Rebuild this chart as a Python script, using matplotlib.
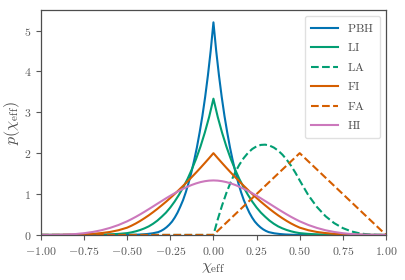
import matplotlib
matplotlib.use("Agg")
import matplotlib.pyplot as plt
from matplotlib.ticker import FuncFormatter

plt.rcParams["mathtext.fontset"] = "cm"
plt.rcParams["font.family"] = "serif"

# shared x grid for the symmetric curves
x_sym = [-1.0, -0.95, -0.9, -0.85, -0.8, -0.75, -0.7, -0.65, -0.6, -0.55,
         -0.5, -0.475, -0.45, -0.425, -0.4, -0.375, -0.35, -0.325, -0.3, -0.275,
         -0.25, -0.225, -0.2, -0.175, -0.15, -0.125, -0.1, -0.075, -0.05, -0.025,
         0.0,
         0.025, 0.05, 0.075, 0.1, 0.125, 0.15, 0.175, 0.2, 0.225, 0.25,
         0.275, 0.3, 0.325, 0.35, 0.375, 0.4, 0.425, 0.45, 0.475, 0.5,
         0.55, 0.6, 0.65, 0.7, 0.75, 0.8, 0.85, 0.9, 0.95, 1.0]

li = [0.0, 0.0, 0.0, 0.0, 0.0, 0.001, 0.003, 0.007, 0.014, 0.025,
      0.044, 0.063, 0.088, 0.120, 0.160, 0.209, 0.273, 0.350, 0.444, 0.546,
      0.671, 0.816, 0.980, 1.165, 1.370, 1.606, 1.865, 2.163, 2.502, 2.885,
      3.333,
      2.885, 2.502, 2.163, 1.865, 1.606, 1.370, 1.165, 0.980, 0.816, 0.671,
      0.546, 0.444, 0.350, 0.273, 0.209, 0.160, 0.120, 0.088, 0.063, 0.044,
      0.025, 0.014, 0.007, 0.003, 0.001, 0.0, 0.0, 0.0, 0.0, 0.0]

fi = [0.0, 0.0, 0.001, 0.003, 0.007, 0.014, 0.026, 0.045, 0.072, 0.115,
      0.178, 0.226, 0.280, 0.341, 0.408, 0.479, 0.556, 0.637, 0.723, 0.811,
      0.904, 1.001, 1.101, 1.204, 1.309, 1.418, 1.528, 1.642, 1.759, 1.878,
      2.000,
      1.878, 1.759, 1.642, 1.528, 1.418, 1.309, 1.204, 1.101, 1.001, 0.904,
      0.811, 0.723, 0.637, 0.556, 0.479, 0.408, 0.341, 0.280, 0.226, 0.178,
      0.115, 0.072, 0.045, 0.026, 0.014, 0.007, 0.003, 0.001, 0.0, 0.0]

hi = [0.0, 0.0003, 0.003, 0.009, 0.021, 0.042, 0.072, 0.114, 0.171, 0.243,
      0.333, 0.386, 0.442, 0.502, 0.565, 0.630, 0.696, 0.763, 0.829, 0.895,
      0.958, 1.019, 1.077, 1.131, 1.180, 1.224, 1.261, 1.292, 1.314, 1.328,
      1.333,
      1.328, 1.314, 1.292, 1.261, 1.224, 1.180, 1.131, 1.077, 1.019, 0.958,
      0.895, 0.829, 0.763, 0.696, 0.630, 0.565, 0.502, 0.442, 0.386, 0.333,
      0.243, 0.171, 0.114, 0.072, 0.042, 0.021, 0.009, 0.003, 0.0003, 0.0]

# PBH curve
x_pbh = [-1.0, -0.5, -0.449, -0.417, -0.385, -0.353, -0.32, -0.304, -0.288, -0.272,
         -0.256, -0.24, -0.224, -0.208, -0.192, -0.176, -0.16, -0.144, -0.128, -0.112,
         -0.096, -0.08, -0.064, -0.048, -0.032, -0.016, 0.0,
         0.016, 0.032, 0.048, 0.064, 0.08, 0.096, 0.112, 0.128, 0.144, 0.16,
         0.176, 0.192, 0.208, 0.224, 0.24, 0.256, 0.272, 0.288, 0.304, 0.32,
         0.353, 0.385, 0.417, 0.449, 0.5, 1.0]
pbh = [0.0, 0.0, 0.005, 0.011, 0.022, 0.039, 0.069, 0.098, 0.137, 0.187,
       0.250, 0.326, 0.426, 0.546, 0.693, 0.852, 1.047, 1.273, 1.529, 1.818,
       2.138, 2.506, 2.910, 3.375, 3.903, 4.501, 5.200,
       4.501, 3.903, 3.375, 2.910, 2.506, 2.138, 1.818, 1.529, 1.273, 1.047,
       0.852, 0.693, 0.546, 0.426, 0.326, 0.250, 0.187, 0.137, 0.098, 0.069,
       0.039, 0.022, 0.011, 0.005, 0.0, 0.0]

# aligned models
x_la = [-1.0, 0.0, 0.025, 0.05, 0.075, 0.1, 0.125, 0.15, 0.175, 0.2, 0.225,
        0.25, 0.275, 0.3, 0.325, 0.35, 0.375, 0.4, 0.425, 0.45, 0.475, 0.5,
        0.55, 0.6, 0.65, 0.7, 0.75, 0.8, 0.85, 0.9, 0.95, 1.0]
la = [0.0, 0.0, 0.380, 0.721, 1.025, 1.291, 1.521, 1.716, 1.877, 2.005, 2.102,
      2.167, 2.202, 2.208, 2.186, 2.137, 2.063, 1.963, 1.839, 1.692, 1.523, 1.333,
      0.972, 0.683, 0.457, 0.288, 0.167, 0.085, 0.036, 0.011, 0.001, 0.0]

x_fa = [-1.0, 0.0, 0.5, 1.0]
fa = [0.0, 0.0, 2.0, 0.0]

blue = "#0173b2"
green = "#029e73"
orange = "#d55e00"
pink = "#cc78bc"

fig = plt.figure(figsize=(4.05, 2.8), dpi=100)
ax = fig.add_axes([0.101, 0.161, 0.852, 0.803])

lw = 1.5
ax.plot(x_pbh, pbh, color=blue, lw=lw, label=r"$\mathrm{PBH}$")
ax.plot(x_sym, li, color=green, lw=lw, label=r"$\mathrm{LI}$")
ax.plot(x_la, la, color=green, lw=lw, ls="--", label=r"$\mathrm{LA}$")
ax.plot(x_sym, fi, color=orange, lw=lw, label=r"$\mathrm{FI}$")
ax.plot(x_fa, fa, color=orange, lw=lw, ls="--", label=r"$\mathrm{FA}$")
ax.plot(x_sym, hi, color=pink, lw=lw, label=r"$\mathrm{HI}$")

ax.set_xlim(-1, 1)
ax.set_ylim(0, 5.5)
ax.set_xticks([-1, -0.75, -0.5, -0.25, 0, 0.25, 0.5, 0.75, 1])
ax.set_yticks([0, 1, 2, 3, 4, 5])
ax.xaxis.set_major_formatter(FuncFormatter(lambda v, p: r"$%.2f$" % v))
ax.yaxis.set_major_formatter(FuncFormatter(lambda v, p: r"$%d$" % v))
ax.tick_params(labelsize=8.5, colors="0.35", length=3.5, width=0.8)

for s in ax.spines.values():
    s.set_color("0.3")
    s.set_linewidth(0.9)

ax.set_xlabel(r"$\chi_{\rm eff}$", fontsize=11.5, color="0.3", labelpad=0)
ax.set_ylabel(r"$p(\chi_{\rm eff})$", fontsize=11.5, color="0.3", labelpad=1)

leg = ax.legend(loc="upper right", fontsize=8.5, frameon=True, fancybox=True,
                edgecolor="0.85", handlelength=2.3, labelspacing=0.55,
                borderpad=0.5)
for t in leg.get_texts():
    t.set_color("0.3")

fig.savefig("out.png", dpi=100)
